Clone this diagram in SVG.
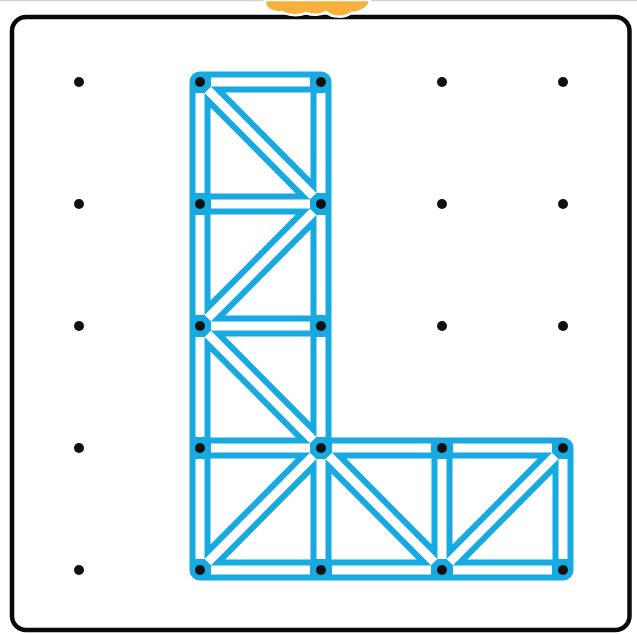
<svg xmlns="http://www.w3.org/2000/svg" width="637" height="634" viewBox="0 0 637 634">
  <style>
    .board { fill: #ffffff; stroke: #0a0a0a; stroke-width: 4.5; }
    .band { fill: none; stroke: #17a9e1; stroke-width: 21; stroke-linecap: round; stroke-linejoin: round; }
    .core { fill: none; stroke: #ffffff; stroke-width: 9; stroke-linecap: butt; }
    .peg { fill: #111111; }
  </style>
  <rect x="0" y="0" width="637" height="634" fill="#ffffff"/>
  <line x1="0" y1="0.5" x2="637" y2="0.5" stroke="#d4d4d4" stroke-width="1.5"/>
  <g id="board">
    <rect class="board" x="12" y="17" width="617.5" height="613" rx="14" ry="14"/>
  </g>
  <g id="handle">
    <path d="M265,0 C264,9 273,13 282,12 C289,16 299,16 306,13 C313,16 321,15 326,12 C332,18 345,18 351,13 C361,13 370,7 370,0 Z" fill="#f8b03c" stroke="#ffffff" stroke-width="2.5"/>
  </g>
  <g id="bands">
    <path class="band" d="M200,82 H321 M200,204 H321 M200,326 H321 M200,448 H563 M200,570 H563
      M200,82 V570 M321,82 V570 M442,448 V570 M563,448 V570
      M200,82 L321,204 M321,204 L200,326 M200,326 L321,448 M321,448 L200,570 M321,448 L442,570 M442,570 L563,448"/>
    <path class="core" d="M211,82 H310 M211,204 H310 M211,326 H310
      M211,448 H310 M332,448 H431 M453,448 H552
      M211,570 H310 M332,570 H431 M453,570 H552
      M200,93 V193 M200,215 V315 M200,337 V437 M200,459 V559
      M321,93 V193 M321,215 V315 M321,337 V437 M321,459 V559
      M442,459 V559 M563,459 V559
      M207.8,89.8 L313.2,196.2 M313.2,211.8 L207.8,318.2 M207.8,333.8 L313.2,440.2
      M313.2,455.8 L207.8,562.2 M328.8,455.8 L434.2,562.2 M449.8,562.2 L555.2,455.8"/>
  </g>
  <g id="pegs">
    <circle id="peg-0-0" class="peg" cx="79" cy="82" r="5"/>
    <circle id="peg-1-0" class="peg" cx="200" cy="82" r="5"/>
    <circle id="peg-2-0" class="peg" cx="321" cy="82" r="5"/>
    <circle id="peg-3-0" class="peg" cx="442" cy="82" r="5"/>
    <circle id="peg-4-0" class="peg" cx="563" cy="82" r="5"/>
    <circle id="peg-0-1" class="peg" cx="79" cy="204" r="5"/>
    <circle id="peg-1-1" class="peg" cx="200" cy="204" r="5"/>
    <circle id="peg-2-1" class="peg" cx="321" cy="204" r="5"/>
    <circle id="peg-3-1" class="peg" cx="442" cy="204" r="5"/>
    <circle id="peg-4-1" class="peg" cx="563" cy="204" r="5"/>
    <circle id="peg-0-2" class="peg" cx="79" cy="326" r="5"/>
    <circle id="peg-1-2" class="peg" cx="200" cy="326" r="5"/>
    <circle id="peg-2-2" class="peg" cx="321" cy="326" r="5"/>
    <circle id="peg-3-2" class="peg" cx="442" cy="326" r="5"/>
    <circle id="peg-4-2" class="peg" cx="563" cy="326" r="5"/>
    <circle id="peg-0-3" class="peg" cx="79" cy="448" r="5"/>
    <circle id="peg-1-3" class="peg" cx="200" cy="448" r="5"/>
    <circle id="peg-2-3" class="peg" cx="321" cy="448" r="5"/>
    <circle id="peg-3-3" class="peg" cx="442" cy="448" r="5"/>
    <circle id="peg-4-3" class="peg" cx="563" cy="448" r="5"/>
    <circle id="peg-0-4" class="peg" cx="79" cy="570" r="5"/>
    <circle id="peg-1-4" class="peg" cx="200" cy="570" r="5"/>
    <circle id="peg-2-4" class="peg" cx="321" cy="570" r="5"/>
    <circle id="peg-3-4" class="peg" cx="442" cy="570" r="5"/>
    <circle id="peg-4-4" class="peg" cx="563" cy="570" r="5"/>
  </g>
</svg>
